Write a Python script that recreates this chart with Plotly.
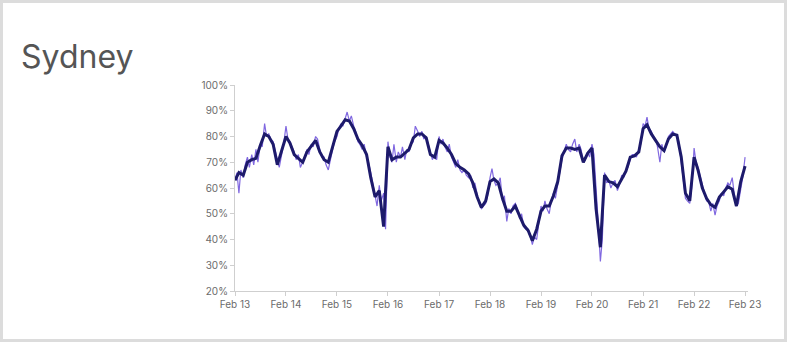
import pandas as pd
import plotly.graph_objects as go

# Monthly trend of the occupancy rate, Feb 2013 .. Feb 2023
trend_start = "2013-02-01"
trend_values = [
    63, 66, 65, 70, 71, 71.5, 76.5, 81, 80, 77, 69, 75,
    80, 77.5, 73, 71.5, 70, 74, 76.5, 78.5, 74, 71, 70, 76.5,
    82, 84, 86.5, 86, 83, 79, 76.5, 73, 64, 56.5, 59, 45,
    76, 71, 72, 72, 73.5, 75, 79.5, 81, 81, 79.5, 73, 72,
    78.5, 77.5, 75.5, 73, 69.5, 68, 67, 65.5, 62, 56.5, 52.5, 55,
    62.5, 63.5, 62, 56, 51, 51, 53, 49.5, 45.5, 43.5, 39.5, 44,
    51, 53, 53, 57, 62.5, 72.5, 75.5, 75.5, 75, 75.5, 70, 73.5,
    75.5, 52, 37, 65, 62.5, 62, 60.5, 63.5, 66.5, 72, 72.5, 74,
    83, 84.5, 81, 78.5, 76, 74.5, 79, 81, 80.5, 72, 58, 55,
    72, 67, 60, 56, 53.5, 52.5, 56.5, 58.5, 60.5, 59.5, 53, 62.5,
    68.5,
]

# Semi-monthly raw readings (1st and 15th of each month)
raw_values = [
    63, 66, 58, 67, 64, 69, 72, 68, 73, 69, 75, 70, 77, 76, 85, 80, 81, 79, 78, 75, 71, 68, 73, 77,
    84, 79, 78, 76, 74, 71, 73, 68, 70, 72, 75, 73, 77, 76, 80, 79, 75, 72, 72, 69, 67, 71, 75, 78,
    80, 83, 85, 84, 87, 89.5, 86, 88, 84, 82, 78, 77, 75, 77, 72, 70, 66, 62, 56, 53, 61, 55, 58, 44,
    78, 72, 70, 77, 70, 74, 72, 76, 71, 75, 74, 77, 78, 84, 82, 80, 82, 79, 80, 77, 74, 71, 73, 71,
    80, 77, 79, 76, 74, 77, 72, 70, 68, 71, 67, 66, 67, 65, 64, 65, 60, 62, 57, 54, 52, 53, 54, 57,
    64, 67.5, 63, 61, 62, 64, 55, 57, 47, 52, 50, 53, 54, 52, 48, 50, 45, 44, 44, 42, 38, 41, 40, 46,
    53, 51, 55, 52, 50, 55, 58, 56, 62, 66, 71, 74, 77, 75, 74, 77, 79, 74, 77, 75, 70, 71, 74, 72,
    77, 73, 62, 48, 31.5, 40, 66, 62, 63, 60, 62, 63, 59, 61, 65, 64, 67, 68, 71, 73, 73, 72, 75, 77,
    85, 84, 87.5, 83, 82, 80, 79, 76, 70, 77, 74, 76, 80, 81, 82, 81, 80, 78, 70, 63, 56, 55, 54, 60,
    75.5, 70, 68, 65, 61, 58, 55, 55, 51, 54, 49.5, 53, 55, 58, 57, 60, 62, 61, 64, 58, 53, 54, 60, 64,
    72,
]

tick_dates = pd.date_range("2013-02-01", "2023-02-01", freq="YS-FEB")
tick_labels = ["Feb 13", "Feb 14", "Feb 15", "Feb 16", "Feb 17", "Feb 18",
               "Feb 19", "Feb 20", "Feb 21", "Feb 22", "Feb 23"]
y_ticks = [20, 30, 40, 50, 60, 70, 80, 90, 100]

trend_dates = pd.date_range(trend_start, periods=len(trend_values), freq="MS")
raw_dates = pd.date_range(trend_start, periods=len(raw_values), freq="SMS")

W, H = 787, 342
ML, MR, MT, MB = 235, 39, 85, 51
PW, PH = W - ML - MR, H - MT - MB

fig = go.Figure()
fig.add_trace(go.Scatter(
    x=raw_dates, y=raw_values, mode="lines",
    line=dict(color="#8068e0", width=1.2), showlegend=False,
))
fig.add_trace(go.Scatter(
    x=trend_dates, y=trend_values, mode="lines",
    line=dict(color="#1d1a6b", width=3), showlegend=False,
))

# card outline
def px_x(p):
    return (p - ML) / PW

def px_y(p):
    return 1 - (p - MT) / PH

fig.add_shape(type="rect", xref="paper", yref="paper",
              x0=px_x(1.5), x1=px_x(W - 1.5), y0=px_y(H - 1.5), y1=px_y(1.5),
              line=dict(color="#dcdcdc", width=3), fillcolor="rgba(0,0,0,0)", layer="below")

fig.update_layout(
    width=W, height=H,
    margin=dict(l=ML, r=MR, t=MT, b=MB),
    paper_bgcolor="white", plot_bgcolor="white",
    font=dict(family="Inter", color="#6b6b6b", size=10),
    title=dict(text="Sydney", x=21 / W, xanchor="left", y=1 - 57 / H, yanchor="middle",
               font=dict(family="Inter", size=32, color="#555555")),
    xaxis=dict(
        type="date", range=["2013-02-01", "2023-02-22"],
        tickvals=tick_dates, ticktext=tick_labels,
        showgrid=False, zeroline=False,
        showline=True, linecolor="#cfcfcf", linewidth=1,
        ticks="outside", ticklen=4, tickcolor="#cfcfcf",
        tickfont=dict(size=10, color="#6b6b6b"),
    ),
    yaxis=dict(
        range=[20, 100], tickvals=y_ticks,
        ticktext=[f"{v}%" for v in y_ticks],
        showgrid=False, zeroline=False,
        showline=True, linecolor="#cfcfcf", linewidth=1,
        ticks="outside", ticklen=4, tickcolor="#cfcfcf",
        tickfont=dict(size=10, color="#6b6b6b"),
    ),
)

fig.write_html("out.html")
